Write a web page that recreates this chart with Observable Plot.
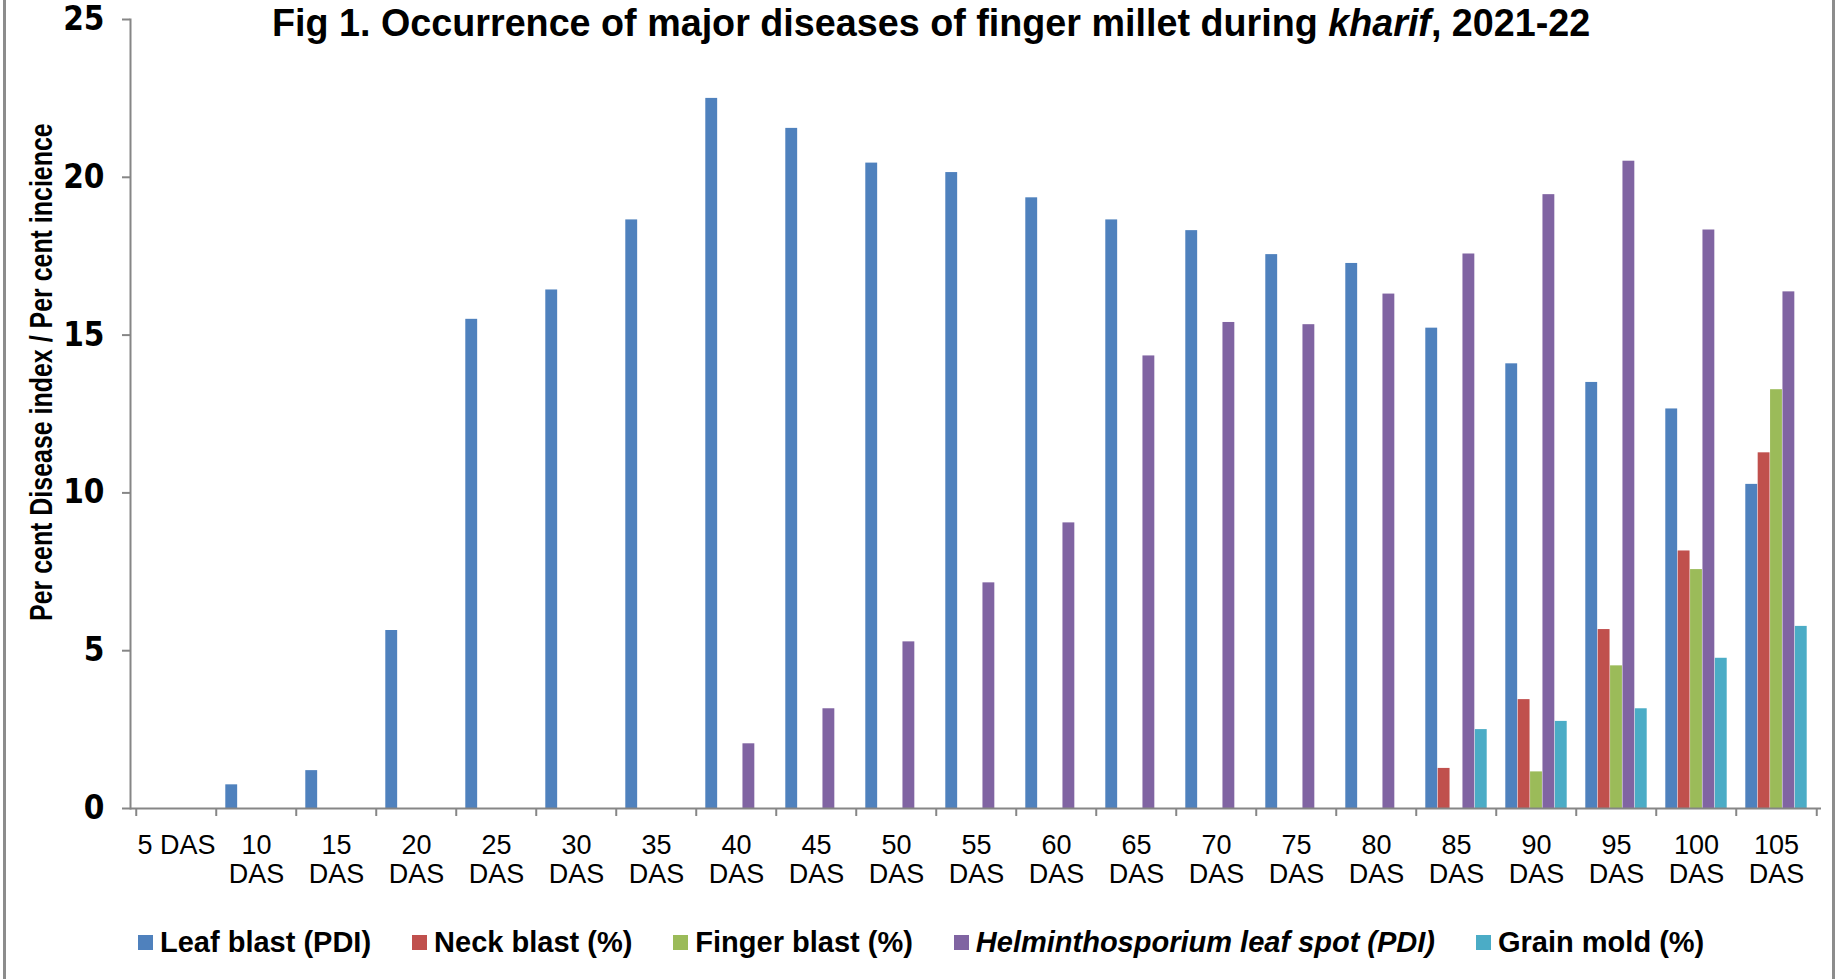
<!DOCTYPE html>
<html>
<head>
<meta charset="utf-8">
<script src="https://cdn.jsdelivr.net/npm/d3@7"></script>
<script src="https://cdn.jsdelivr.net/npm/@observablehq/plot@0.6"></script>
<style>
  body { margin: 0; background: #fff; }
  #wrap { position: relative; width: 1838px; height: 979px; overflow: hidden; font-family: "Liberation Sans", Arial, sans-serif; color: #000; }
  #title { position: absolute; left: 272px; top: 0px; font-weight: bold; font-size: 39px; line-height: 1.2; white-space: nowrap; transform-origin: 0 0; }
  #ytitle { position: absolute; left: 41px; top: 372px; font-weight: bold; font-size: 31px; white-space: nowrap; line-height: 1.2; }
  #legend { position: absolute; left: 138px; top: 924px; height: 36px; display: flex; align-items: center; gap: 41px; font-weight: bold; font-size: 29px; white-space: nowrap; }
  #legend .item { display: flex; align-items: center; }
  #legend .sw { width: 15px; height: 15px; margin-right: 7px; flex: none; }
  .border { position: absolute; top: 0; width: 3px; height: 979px; background: #8c8c8c; }
  #chart { position: absolute; left: 0; top: 0; }
</style>
</head>
<body>
<div id="wrap">
  <div class="border" style="left:3px"></div>
  <div class="border" style="left:1832px"></div>
  <div id="chart"></div>
  <div id="title">Fig 1. Occurrence of major diseases of finger millet during <i>kharif</i>, 2021-22</div>
  <div id="ytitle">Per cent Disease index / Per cent incience</div>
  <div id="legend"></div>
</div>
<script>
// ---- data ----
const days = ["5 DAS","10 DAS","15 DAS","20 DAS","25 DAS","30 DAS","35 DAS","40 DAS","45 DAS","50 DAS","55 DAS","60 DAS","65 DAS","70 DAS","75 DAS","80 DAS","85 DAS","90 DAS","95 DAS","100 DAS","105 DAS"];
const seriesNames = ["Leaf blast (PDI)", "Neck blast (%)", "Finger blast (%)", "Helminthosporium leaf spot (PDI)", "Grain mold (%)"];
const seriesColors = ["#4F81BD", "#C0504D", "#9BBB59", "#8064A2", "#4BACC6"];
const leafBlast   = [0, 0.75, 1.2, 5.64, 15.5, 16.43, 18.65, 22.5, 21.55, 20.45, 20.15, 19.35, 18.65, 18.31, 17.55, 17.27, 15.22, 14.09, 13.5, 12.66, 10.27];
const neckBlast   = [0, 0, 0, 0, 0, 0, 0, 0, 0, 0, 0, 0, 0, 0, 0, 0, 1.27, 3.45, 5.67, 8.16, 11.27];
const fingerBlast = [0, 0, 0, 0, 0, 0, 0, 0, 0, 0, 0, 0, 0, 0, 0, 0, 0, 1.16, 4.52, 7.57, 13.27];
const helmintho   = [0, 0, 0, 0, 0, 0, 0, 2.05, 3.16, 5.28, 7.15, 9.05, 14.34, 15.4, 15.33, 16.3, 17.57, 19.45, 20.51, 18.33, 16.37];
const grainMold   = [0, 0, 0, 0, 0, 0, 0, 0, 0, 0, 0, 0, 0, 0, 0, 0, 2.5, 2.76, 3.16, 4.76, 5.77];
const yTicks = [0, 5, 10, 15, 20, 25];

const seriesValues = [leafBlast, neckBlast, fingerBlast, helmintho, grainMold];
const table = [];
seriesNames.forEach((s, k) => days.forEach((d, i) => table.push({day: d, series: s, value: seriesValues[k][i]})));

// ---- layout ----
const W = 1838, H = 979, mL = 130, mR = 17, mT = 19, mB = 171;
const step = (W - mL - mR) / days.length;
const gapRatio = 1.5; // Excel gap width 150%
const barW = step / (seriesNames.length + gapRatio);
const inset = (step - barW) / 2;
const gray = "#868686";
const narrow = "'Liberation Sans Narrow', 'Arial Narrow', 'DejaVu Sans Condensed', sans-serif";

const barMarks = seriesNames.map((s, k) =>
  Plot.barY(table.filter(d => d.series === s && d.value > 0), {
    x: "day", y: "value", fill: "series",
    insetLeft: inset, insetRight: inset,
    dx: (k - (seriesNames.length - 1) / 2) * barW
  })
);

const chart = Plot.plot({
  width: W, height: H,
  marginLeft: mL, marginRight: mR, marginTop: mT, marginBottom: mB,
  x: {domain: days, padding: 0, axis: null},
  y: {domain: [0, 25], axis: null},
  color: {domain: seriesNames, range: seriesColors},
  style: {fontFamily: "'Liberation Sans', Arial, sans-serif", background: "transparent", color: "#000"},
  marks: [
    ...barMarks,
    Plot.ruleY([0], {stroke: gray, strokeWidth: 2}),
    Plot.frame({anchor: "left", stroke: gray, strokeWidth: 2}),
    Plot.axisY({ticks: yTicks, tickSize: 8, tickPadding: 18, stroke: gray, strokeWidth: 2, fill: "#000",
      fontSize: 33, fontWeight: "bold", fontFamily: narrow, label: null}),
    Plot.axisX({tickSize: 8, dx: -step / 2, stroke: gray, strokeWidth: 2, tickFormat: () => "", label: null}),
    Plot.axisX({ticks: [days[days.length - 1]], tickSize: 8, dx: step / 2, stroke: gray, strokeWidth: 2, tickFormat: () => "", label: null}),
    Plot.axisX({tickSize: 0, tickPadding: 24, fill: "#000", fontSize: 27, lineHeight: 1.1,
      tickFormat: d => d === days[0] ? d : d.replace(" ", "\n"), label: null})
  ]
});
document.getElementById("chart").appendChild(chart);

// ---- condensed titles (Arial Narrow look, from Liberation Sans Bold) ----
const title = document.getElementById("title");
title.style.transform = `scaleX(${1318 / title.offsetWidth})`;
const ytitle = document.getElementById("ytitle");
const yw = ytitle.offsetWidth, yh = ytitle.offsetHeight;
ytitle.style.transformOrigin = "0 0";
ytitle.style.transform = `translate(${-yh / 2}px, ${498 / 2}px) rotate(-90deg) scaleX(${498 / yw})`;

// ---- legend (HTML, using the plot's color scale) ----
const color = chart.scale("color");
const legend = document.getElementById("legend");
seriesNames.forEach((s) => {
  const item = document.createElement("div");
  item.className = "item";
  const sw = document.createElement("span");
  sw.className = "sw";
  sw.style.background = color.range[color.domain.indexOf(s)];
  const label = document.createElement("span");
  label.textContent = s;
  if (s.startsWith("Helminthosporium")) label.style.fontStyle = "italic";
  item.appendChild(sw); item.appendChild(label);
  legend.appendChild(item);
});
</script>
</body>
</html>
